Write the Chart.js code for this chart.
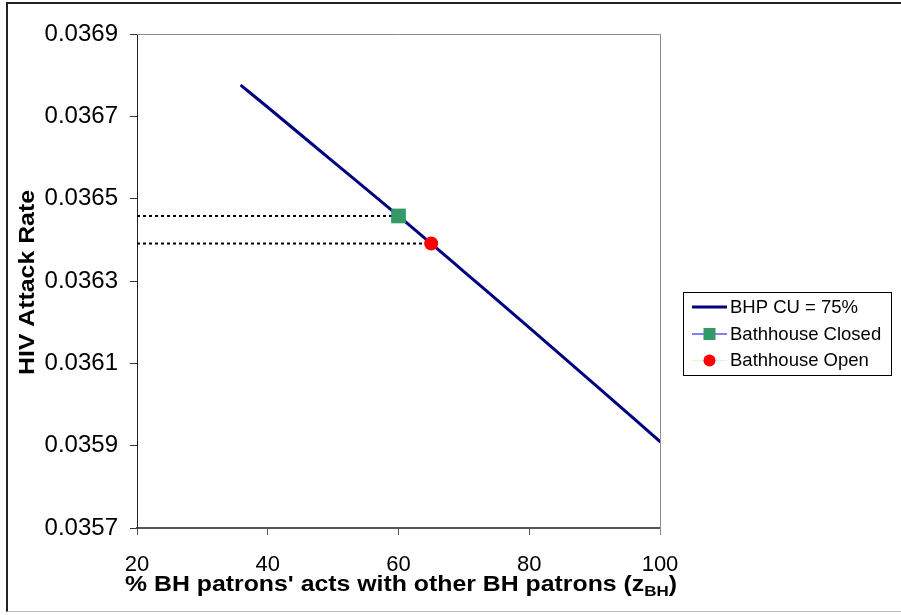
<!DOCTYPE html>
<html>
<head>
<meta charset="utf-8">
<script src="https://cdn.jsdelivr.net/npm/chart.js@4.4.1/dist/chart.umd.min.js"></script>
<style>
  html, body { margin: 0; padding: 0; background: #fff; }
  #wrap { position: relative; width: 901px; height: 615px; overflow: hidden; }
  #frame { position: absolute; left: 6px; top: 2px; width: 900px; height: 610px;
           border-top: 2px solid #222; border-left: 2px solid #222; border-bottom: 1px solid #bbb; box-sizing: border-box; pointer-events: none; }
  canvas { position: absolute; left: 0; top: 0; }
</style>
</head>
<body>
<div id="wrap">
  <canvas id="c" width="901" height="615"></canvas>
  <div id="frame"></div>
</div>
<script>
// ---- data ----
const zBH = [36, 40, 50, 60, 65, 70, 80, 90, 100];
const attackRate = [0.036774, 0.036722, 0.036590, 0.036458, 0.036391, 0.036323, 0.036187, 0.036049, 0.035910];
const closedPoint = [60, 0.036458];
const openPoint = [65, 0.036391];
const xTicks = [20, 40, 60, 80, 100];
const yTicks = [0.0357, 0.0359, 0.0361, 0.0363, 0.0365, 0.0367, 0.0369];
const seriesNames = ['BHP CU = 75%', 'Bathhouse Closed', 'Bathhouse Open'];
const xTitleMain = "% BH patrons' acts with other BH patrons (z";
const xTitleSub = 'BH';
const xTitleEnd = ')';
const yTitle = 'HIV Attack Rate';

const FONT = "'Liberation Sans', Arial, sans-serif";

const lineData = zBH.map((x, i) => ({ x: x, y: attackRate[i] }));

const decorPlugin = {
  id: 'decor',
  beforeDatasetsDraw(chart) {
    const ctx = chart.ctx, a = chart.chartArea;
    ctx.save();
    ctx.strokeStyle = '#8c8c8c';
    ctx.lineWidth = 1;
    ctx.beginPath();
    ctx.moveTo(a.left, a.top + 0.5);
    ctx.lineTo(a.right + 0.5, a.top + 0.5);
    ctx.lineTo(a.right + 0.5, a.bottom + 7);
    ctx.stroke();
    ctx.restore();
  },
  afterDraw(chart) {
    const ctx = chart.ctx;
    ctx.save();
    ctx.fillStyle = '#000';
    // x title with subscript (horizontally stretched to match the reference)
    const mainFont = 'bold 22px ' + FONT;
    const subFont = 'bold 15px ' + FONT;
    ctx.font = mainFont;
    const w1 = ctx.measureText(xTitleMain).width;
    const w3 = ctx.measureText(xTitleEnd).width;
    ctx.font = subFont;
    const w2 = ctx.measureText(xTitleSub).width;
    const total = w1 + w2 + w3;
    const targetW = 552;
    const sx = targetW / total;
    ctx.save();
    ctx.translate(401 - targetW / 2, 591);
    ctx.scale(sx, 1);
    ctx.textBaseline = 'alphabetic';
    ctx.textAlign = 'left';
    ctx.font = mainFont;
    ctx.fillText(xTitleMain, 0, 0);
    ctx.font = subFont;
    ctx.fillText(xTitleSub, w1, 5);
    ctx.font = mainFont;
    ctx.fillText(xTitleEnd, w1 + w2, 0);
    ctx.restore();
    // y title
    ctx.save();
    ctx.translate(33.5, 282.5);
    ctx.rotate(-Math.PI / 2);
    ctx.font = 'bold 22px ' + FONT;
    const wy = ctx.measureText(yTitle).width;
    ctx.scale(185 / wy, 1);
    ctx.textAlign = 'center';
    ctx.textBaseline = 'alphabetic';
    ctx.fillText(yTitle, 0, 0);
    ctx.restore();

    // legend
    const L = 683, T = 292, R = 891, B = 375;
    ctx.strokeStyle = '#000';
    ctx.lineWidth = 1;
    ctx.strokeRect(L + 0.5, T + 0.5, R - L, B - T);
    const rows = [307, 333.5, 360];
    const sx0 = 692, sx1 = 727, mx = 709.5;
    ctx.font = '18.5px ' + FONT;
    ctx.textAlign = 'left';
    ctx.textBaseline = 'middle';
    ctx.strokeStyle = '#000080'; ctx.lineWidth = 3;
    ctx.beginPath(); ctx.moveTo(sx0, rows[0]); ctx.lineTo(sx1, rows[0]); ctx.stroke();
    ctx.strokeStyle = '#0000ff'; ctx.lineWidth = 1;
    ctx.beginPath(); ctx.moveTo(sx0, rows[1] + 0.5); ctx.lineTo(sx1, rows[1] + 0.5); ctx.stroke();
    ctx.fillStyle = '#339966';
    ctx.fillRect(mx - 6, rows[1] - 5.5, 12, 12);
    ctx.strokeStyle = '#ccffcc'; ctx.lineWidth = 1;
    ctx.beginPath(); ctx.moveTo(sx0, rows[2] + 0.5); ctx.lineTo(sx1, rows[2] + 0.5); ctx.stroke();
    ctx.fillStyle = '#ff0000';
    ctx.beginPath(); ctx.arc(mx, rows[2] + 0.5, 6, 0, Math.PI * 2); ctx.fill();
    ctx.fillStyle = '#000';
    seriesNames.forEach((n, i) => ctx.fillText(n, 730, rows[i] + 1));
    ctx.restore();
  }
};

new Chart(document.getElementById('c'), {
  type: 'scatter',
  data: {
    datasets: [
      { label: seriesNames[1], data: [{ x: closedPoint[0], y: closedPoint[1] }], pointStyle: 'rect',
        pointRadius: 10.4, pointBackgroundColor: '#339966', pointBorderWidth: 0, showLine: false, order: 0 },
      { label: seriesNames[2], data: [{ x: openPoint[0], y: openPoint[1] }], pointStyle: 'circle',
        pointRadius: 7, pointBackgroundColor: '#ff0000', pointBorderWidth: 0, showLine: false, order: 0 },
      { label: seriesNames[0], data: lineData, showLine: true, borderColor: '#000080', borderWidth: 3,
        pointRadius: 0, cubicInterpolationMode: 'monotone', borderCapStyle: 'round', order: 1 },
      { label: 'closed-guide', data: [{ x: xTicks[0], y: closedPoint[1] }, { x: closedPoint[0], y: closedPoint[1] }],
        showLine: true, borderColor: '#000', borderWidth: 2, borderDash: [3, 3], pointRadius: 0, order: 2 },
      { label: 'open-guide', data: [{ x: xTicks[0], y: openPoint[1] }, { x: openPoint[0], y: openPoint[1] }],
        showLine: true, borderColor: '#000', borderWidth: 2, borderDash: [3, 3], pointRadius: 0, order: 2 }
    ]
  },
  options: {
    responsive: false,
    animation: false,
    devicePixelRatio: 1,
    layout: { padding: { left: 0, top: 34, right: 241, bottom: 0 } },
    plugins: { legend: { display: false }, tooltip: { enabled: false } },
    scales: {
      x: {
        type: 'linear', position: 'bottom', min: xTicks[0], max: xTicks[xTicks.length - 1],
        afterBuildTicks: s => { s.ticks = xTicks.map(v => ({ value: v })); },
        afterFit: s => { s.height = 87; },
        grid: { drawOnChartArea: false, drawTicks: true, tickLength: 7, color: '#555', lineWidth: 1 },
        border: { display: true, color: '#555', width: 2 },
        ticks: { color: '#000', font: { family: FONT, size: 22 }, padding: 17, maxRotation: 0,
                 callback: v => String(v) }
      },
      y: {
        type: 'linear', min: yTicks[0], max: yTicks[yTicks.length - 1],
        afterBuildTicks: s => { s.ticks = yTicks.map(v => ({ value: v })); },
        afterFit: s => { s.width = 137; },
        grid: { drawOnChartArea: false, drawTicks: true, tickLength: 7, color: '#333', lineWidth: 1 },
        border: { display: true, color: '#222', width: 1 },
        ticks: { color: '#000', font: { family: FONT, size: 24 }, padding: 12,
                 callback: v => Number(v).toFixed(4) }
      }
    }
  },
  plugins: [decorPlugin]
});
</script>
</body>
</html>
